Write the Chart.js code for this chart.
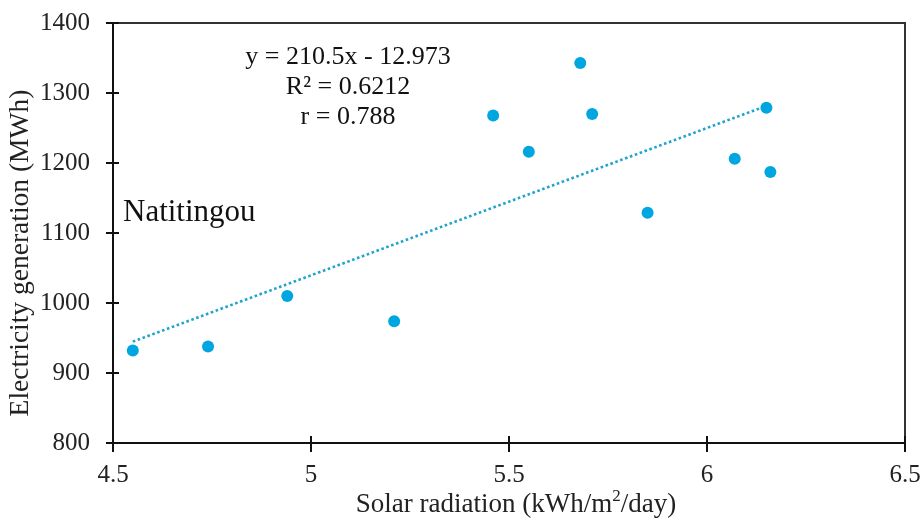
<!DOCTYPE html>
<html>
<head>
<meta charset="utf-8">
<script src="https://cdn.jsdelivr.net/npm/chart.js@4.4.1/dist/chart.umd.min.js"></script>
<style>
  body { margin: 0; background: #fff; }
  #wrap { width: 922px; height: 522px; }
</style>
</head>
<body>
<div id="wrap"><canvas id="myChart" width="922" height="522"></canvas></div>
<script>
// data
const solarRadiation = [4.55, 4.74, 4.94, 5.21, 5.46, 5.55, 5.68, 5.71, 5.85, 6.07, 6.15, 6.16];
const electricity = [932, 938, 1010, 974, 1268, 1216, 1343, 1270, 1129, 1206, 1279, 1187];

// trend line as printed on the chart
const trendSlope = 210.5;
const trendIntercept = -12.973;
const trendRange = [4.55, 6.15];

const xTicks = [4.5, 5, 5.5, 6, 6.5];
const xTickLabels = ['4.5', '5', '5.5', '6', '6.5'];
const yTicks = [800, 900, 1000, 1100, 1200, 1300, 1400];
const yTickLabels = ['800', '900', '1000', '1100', '1200', '1300', '1400'];

const eqLines = ['y = 210.5x - 12.973', 'R\u00B2 = 0.6212', 'r = 0.788'];
const siteName = 'Natitingou';
const yTitle = 'Electricity generation (MWh)';
const xTitleParts = ['Solar radiation (kWh/m', '2', '/day)']; // middle part is superscript

const serif = "'Liberation Serif', 'Times New Roman', serif";

const points = solarRadiation.map((x, i) => ({ x: x, y: electricity[i] }));
const trend = trendRange.map(x => ({ x: x, y: trendSlope * x + trendIntercept }));

// box, crossing tick marks, axis titles and the text inside the plot
const framePlugin = {
  id: 'frame',
  afterDraw(chart) {
    const ctx = chart.ctx;
    const a = chart.chartArea;
    const xs = chart.scales.x, ys = chart.scales.y;
    ctx.save();
    ctx.strokeStyle = '#333';
    ctx.lineWidth = 2;
    ctx.beginPath();
    ctx.moveTo(a.left, a.top);
    ctx.lineTo(a.right, a.top);
    ctx.lineTo(a.right, a.bottom);
    ctx.stroke();

    ctx.strokeStyle = '#111';
    ctx.lineWidth = 2;
    ys.ticks.forEach(t => {
      const py = Math.round(ys.getPixelForValue(t.value));
      ctx.beginPath();
      ctx.moveTo(a.left - 7, py);
      ctx.lineTo(a.left + 6, py);
      ctx.stroke();
    });
    xs.ticks.forEach(t => {
      const px = Math.round(xs.getPixelForValue(t.value));
      ctx.beginPath();
      ctx.moveTo(px, a.bottom - 7);
      ctx.lineTo(px, a.bottom + 9);
      ctx.stroke();
    });

    ctx.fillStyle = '#111';
    ctx.font = '26px ' + serif;
    ctx.textAlign = 'center';
    ctx.textBaseline = 'middle';
    eqLines.forEach((s, i) => ctx.fillText(s, 348, 57 + i * 30));

    ctx.font = '31px ' + serif;
    ctx.textAlign = 'left';
    ctx.fillText(siteName, 123, 213);

    // y axis title
    ctx.fillStyle = '#222';
    ctx.font = '27.5px ' + serif;
    ctx.save();
    ctx.translate(21, 253);
    ctx.rotate(-Math.PI / 2);
    ctx.textAlign = 'center';
    ctx.fillText(yTitle, 0, 0);
    ctx.restore();

    // x axis title with superscript
    const mainFont = '27px ' + serif, supFont = '17px ' + serif;
    ctx.font = mainFont;
    const w0 = ctx.measureText(xTitleParts[0]).width;
    const w2 = ctx.measureText(xTitleParts[2]).width;
    ctx.font = supFont;
    const w1 = ctx.measureText(xTitleParts[1]).width;
    let px = 516 - (w0 + w1 + w2) / 2;
    ctx.textAlign = 'left';
    ctx.textBaseline = 'alphabetic';
    ctx.font = mainFont;
    ctx.fillText(xTitleParts[0], px, 512);
    px += w0;
    ctx.font = supFont;
    ctx.fillText(xTitleParts[1], px, 501);
    px += w1;
    ctx.font = mainFont;
    ctx.fillText(xTitleParts[2], px, 512);
    ctx.restore();
  }
};

const ctx = document.getElementById('myChart').getContext('2d');
new Chart(ctx, {
  type: 'scatter',
  data: {
    datasets: [
      {
        label: 'Electricity generation',
        data: points,
        backgroundColor: '#00A6E0',
        borderWidth: 0,
        pointRadius: 6,
        order: 1
      },
      {
        label: 'Linear trend',
        data: trend,
        showLine: true,
        borderColor: '#1FA3CF',
        borderWidth: 2.6,
        borderDash: [2.6, 2.6],
        pointRadius: 0,
        fill: false,
        order: 2
      }
    ]
  },
  options: {
    responsive: false,
    animation: false,
    layout: { padding: { top: 23, right: 17, left: 0, bottom: 0 } },
    plugins: {
      legend: { display: false },
      tooltip: { enabled: false }
    },
    scales: {
      x: {
        type: 'linear',
        min: 4.5,
        max: 6.5,
        afterBuildTicks: s => { s.ticks = xTicks.map(v => ({ value: v })); },
        afterFit: s => { s.height = 79; },
        // invisible tick length used as the gap to the labels
        grid: { display: false, drawTicks: true, tickLength: 17 },
        border: { display: true, color: '#111', width: 2 },
        ticks: {
          padding: 0, color: '#222', font: { family: serif, size: 25 },
          callback: (v, i) => xTickLabels[i]
        },
        title: { display: false }
      },
      y: {
        min: 800,
        max: 1400,
        afterBuildTicks: s => { s.ticks = yTicks.map(v => ({ value: v })); },
        afterFit: s => { s.width = 113; },
        grid: { display: false, drawTicks: true, tickLength: 23 },
        border: { display: true, color: '#111', width: 2 },
        ticks: {
          padding: 0, color: '#222', font: { family: serif, size: 25 },
          callback: (v, i) => yTickLabels[i]
        },
        title: { display: false }
      }
    }
  },
  plugins: [framePlugin]
});
</script>
</body>
</html>
